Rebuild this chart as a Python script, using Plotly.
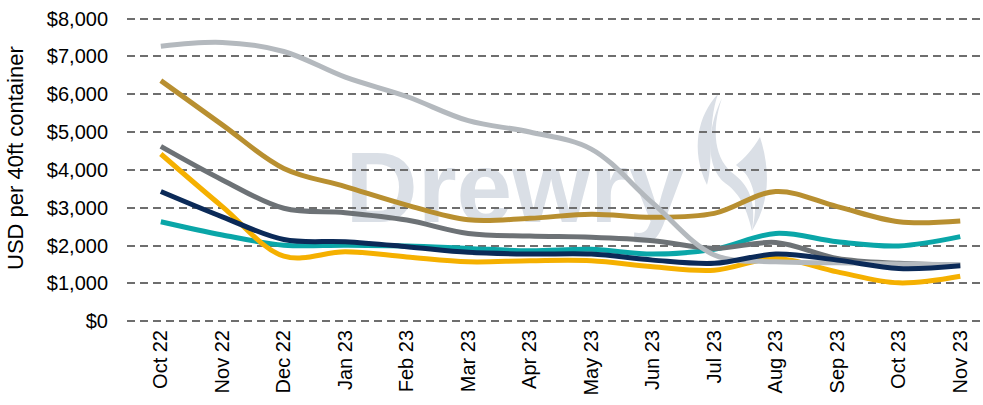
import plotly.graph_objects as go

months = ["Oct 22", "Nov 22", "Dec 22", "Jan 23", "Feb 23", "Mar 23", "Apr 23",
          "May 23", "Jun 23", "Jul 23", "Aug 23", "Sep 23", "Oct 23", "Nov 23"]

light_gray = [7270, 7370, 7130, 6450, 5940, 5300, 5000, 4550, 3120, 1750, 1570, 1545, 1510, 1490]
gold       = [6360, 5190, 4040, 3560, 3070, 2680, 2720, 2830, 2750, 2850, 3430, 3030, 2630, 2650]
dark_gray  = [4620, 3735, 2985, 2870, 2675, 2320, 2250, 2220, 2130, 1925, 2080, 1660, 1530, 1480]
navy       = [3430, 2760, 2160, 2100, 1970, 1820, 1775, 1775, 1615, 1530, 1775, 1615, 1395, 1465]
teal       = [2630, 2280, 2010, 2010, 1990, 1925, 1860, 1900, 1775, 1900, 2320, 2100, 1990, 2235]
yellow     = [4420, 3030, 1720, 1835, 1700, 1570, 1600, 1600, 1440, 1350, 1660, 1305, 1015, 1190]

y_ticks = [0, 1000, 2000, 3000, 4000, 5000, 6000, 7000, 8000]
y_tick_text = ["$0", "$1,000", "$2,000", "$3,000", "$4,000", "$5,000", "$6,000", "$7,000", "$8,000"]

W, H = 983, 405
# plot area: y=$8,000 at 19px, y=$0 at 321px; small padding so edge gridlines show
Y0, Y1 = -100, 8200
PX_PER = (321 - 19) / 8000.0
T = int(round(19 - (Y1 - 8000) * PX_PER))
BOT = 321 + (0 - Y0) * PX_PER
B = int(round(H - BOT))
L, R = 127, 0
PW, PH = W - L - R, H - T - B
WM = "#dadfe6"


def px(xp, yp):
    return (xp - L) / PW, (H - B - yp) / PH


def path(cmds):
    out = []
    for c in cmds:
        if isinstance(c, str):
            out.append(c)
        else:
            x, y = px(*c)
            out.append(f"{x:.5f},{y:.5f}")
    return " ".join(out)


fig = go.Figure()

series = [
    (teal, "#0aa6a8"),
    (yellow, "#f5b000"),
    (dark_gray, "#6d7276"),
    (gold, "#b88f30"),
    (light_gray, "#b4b9be"),
    (navy, "#0b2a58"),
]
for vals, col in series:
    fig.add_trace(go.Scatter(
        x=months, y=vals, mode="lines",
        line=dict(color=col, width=5, shape="spline", smoothing=1.0),
        showlegend=False, hoverinfo="skip"))

shapes = []
# watermark logo (approximate flame)
logo_paths = [
    ["M", (718, 94), "C", (698, 115), (690, 150), (707, 185), "C", (714, 160), (707, 125), (718, 94), "Z"],
    ["M", (722, 98), "C", (711, 130), (714, 160), (735, 175), "C", (751, 188), (756, 205), (752, 231),
     "C", (746, 205), (738, 192), (725, 183), "C", (706, 168), (706, 130), (722, 98), "Z"],
    ["M", (760, 137), "C", (752, 150), (745, 158), (736, 165), "L", (745, 173),
     "C", (755, 186), (758, 205), (752, 231), "C", (768, 205), (772, 175), (760, 137), "Z"],
]
for p in logo_paths:
    shapes.append(dict(type="path", xref="paper", yref="paper", path=path(p),
                       fillcolor=WM, line=dict(width=0), layer="below"))

x0, y0 = px(348, 120)
x1, y1 = px(682, 236)
shapes.append(dict(type="rect", xref="paper", yref="paper", x0=x0, y0=y1, x1=x1, y1=y0,
                   line=dict(width=0), fillcolor="rgba(0,0,0,0)", layer="below",
                   label=dict(text="Drewry", textposition="middle center",
                              font=dict(family="Liberation Sans, Arial, sans-serif", size=100,
                                        color=WM, weight="bold"))))

ax, ay = px(15, 158)
fig.update_layout(
    width=W, height=H,
    margin=dict(l=L, r=R, t=T, b=B, pad=0, autoexpand=False),
    paper_bgcolor="white", plot_bgcolor="white",
    font=dict(family="Liberation Sans, Arial, sans-serif", size=20, color="#000000"),
    shapes=shapes,
    annotations=[dict(text="USD per 40ft container", xref="paper", yref="paper",
                      x=ax, y=ay, xanchor="center", yanchor="middle", textangle=-90,
                      showarrow=False, font=dict(size=22, color="#000000"))],
    xaxis=dict(
        type="category", range=[-0.55, 13.37], showgrid=False, zeroline=False,
        showline=False, ticks="", tickangle=-90,
        tickfont=dict(size=20, color="#000000"), fixedrange=True,
        automargin=False),
    yaxis=dict(
        range=[Y0, Y1], tickvals=y_ticks, ticktext=y_tick_text,
        showgrid=True, gridcolor="#6e6e6e", gridwidth=2, griddash="8px,5px",
        zeroline=False, showline=False, ticks="outside", ticklen=14,
        tickcolor="rgba(0,0,0,0)", tickfont=dict(size=20, color="#000000"), fixedrange=True,
        automargin=False),
)

fig.write_html("out.html", config={"displayModeBar": False},
               post_script="document.body.style.margin='0';document.body.style.overflow='hidden';")
